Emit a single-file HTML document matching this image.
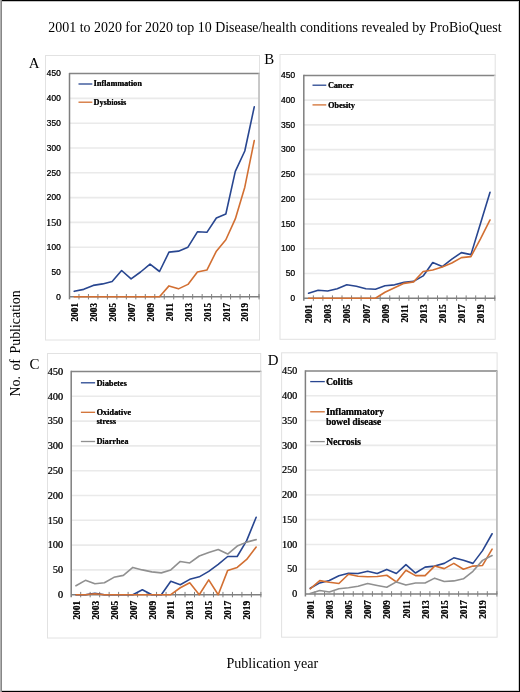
<!DOCTYPE html>
<html><head><meta charset="utf-8"><title>ProBioQuest figure</title>
<style>
html,body{margin:0;padding:0;background:#fff;}
body{width:520px;height:692px;overflow:hidden;font-family:"Liberation Serif", serif;}
svg{display:block;will-change:transform;}
</style></head><body>
<svg width="520" height="692" viewBox="0 0 520 692">
<rect x="0" y="0" width="520" height="692" fill="#fff"/>
<rect x="45.5" y="55.5" width="214" height="284.5" fill="none" stroke="#e2e2e2" stroke-width="1"/>
<line x1="69.5" y1="272" x2="259" y2="272" stroke="#eaeaea" stroke-width="1.6"/>
<line x1="69.5" y1="247.2" x2="259" y2="247.2" stroke="#eaeaea" stroke-width="1.6"/>
<line x1="69.5" y1="222.4" x2="259" y2="222.4" stroke="#eaeaea" stroke-width="1.6"/>
<line x1="69.5" y1="197.6" x2="259" y2="197.6" stroke="#eaeaea" stroke-width="1.6"/>
<line x1="69.5" y1="172.8" x2="259" y2="172.8" stroke="#eaeaea" stroke-width="1.6"/>
<line x1="69.5" y1="148" x2="259" y2="148" stroke="#eaeaea" stroke-width="1.6"/>
<line x1="69.5" y1="123.2" x2="259" y2="123.2" stroke="#eaeaea" stroke-width="1.6"/>
<line x1="69.5" y1="98.4" x2="259" y2="98.4" stroke="#eaeaea" stroke-width="1.6"/>
<line x1="69.5" y1="73.6" x2="259.5" y2="73.6" stroke="#858585" stroke-width="1.5"/>
<line x1="259" y1="73.6" x2="259" y2="296.8" stroke="#c4c4c4" stroke-width="1.8"/>
<line x1="69.5" y1="72.9" x2="69.5" y2="299.3" stroke="#7f7f7f" stroke-width="1.5"/>
<line x1="69.5" y1="296.8" x2="259.5" y2="296.8" stroke="#7f7f7f" stroke-width="1.6"/>
<line x1="78.97" y1="294" x2="78.97" y2="299.4" stroke="#7f7f7f" stroke-width="1"/>
<line x1="88.45" y1="294" x2="88.45" y2="299.4" stroke="#7f7f7f" stroke-width="1"/>
<line x1="97.92" y1="294" x2="97.92" y2="299.4" stroke="#7f7f7f" stroke-width="1"/>
<line x1="107.4" y1="294" x2="107.4" y2="299.4" stroke="#7f7f7f" stroke-width="1"/>
<line x1="116.88" y1="294" x2="116.88" y2="299.4" stroke="#7f7f7f" stroke-width="1"/>
<line x1="126.35" y1="294" x2="126.35" y2="299.4" stroke="#7f7f7f" stroke-width="1"/>
<line x1="135.82" y1="294" x2="135.82" y2="299.4" stroke="#7f7f7f" stroke-width="1"/>
<line x1="145.3" y1="294" x2="145.3" y2="299.4" stroke="#7f7f7f" stroke-width="1"/>
<line x1="154.77" y1="294" x2="154.77" y2="299.4" stroke="#7f7f7f" stroke-width="1"/>
<line x1="164.25" y1="294" x2="164.25" y2="299.4" stroke="#7f7f7f" stroke-width="1"/>
<line x1="173.72" y1="294" x2="173.72" y2="299.4" stroke="#7f7f7f" stroke-width="1"/>
<line x1="183.2" y1="294" x2="183.2" y2="299.4" stroke="#7f7f7f" stroke-width="1"/>
<line x1="192.68" y1="294" x2="192.68" y2="299.4" stroke="#7f7f7f" stroke-width="1"/>
<line x1="202.15" y1="294" x2="202.15" y2="299.4" stroke="#7f7f7f" stroke-width="1"/>
<line x1="211.62" y1="294" x2="211.62" y2="299.4" stroke="#7f7f7f" stroke-width="1"/>
<line x1="221.1" y1="294" x2="221.1" y2="299.4" stroke="#7f7f7f" stroke-width="1"/>
<line x1="230.57" y1="294" x2="230.57" y2="299.4" stroke="#7f7f7f" stroke-width="1"/>
<line x1="240.05" y1="294" x2="240.05" y2="299.4" stroke="#7f7f7f" stroke-width="1"/>
<line x1="249.53" y1="294" x2="249.53" y2="299.4" stroke="#7f7f7f" stroke-width="1"/>
<line x1="259" y1="294" x2="259" y2="299.4" stroke="#7f7f7f" stroke-width="1"/>
<polyline points="74.24,291.34 83.71,289.36 93.19,285.39 102.66,283.9 112.14,281.42 121.61,270.51 131.09,278.94 140.56,272 150.04,264.06 159.51,271.5 168.99,252.16 178.46,251.17 187.94,247.2 197.41,231.82 206.89,232.32 216.36,217.94 225.84,213.97 235.31,171.31 244.79,150.98 254.26,106.83" fill="none" stroke="#284690" stroke-width="1.6" stroke-linejoin="round" stroke-linecap="round"/>
<polyline points="74.24,296.8 83.71,296.8 93.19,296.8 102.66,296.8 112.14,296.8 121.61,296.8 131.09,296.8 140.56,296.8 150.04,296.8 159.51,296.8 168.99,285.89 178.46,288.86 187.94,284.4 197.41,272 206.89,270.02 216.36,251.17 225.84,239.76 235.31,218.93 244.79,187.18 254.26,140.56" fill="none" stroke="#d26f32" stroke-width="1.6" stroke-linejoin="round" stroke-linecap="round"/>
<text transform="translate(60.7,299.6) scale(0.86,1)" text-anchor="end" font-family='"Liberation Sans", sans-serif' font-size="9.9" fill="#1a1a1a">0</text>
<text transform="translate(61.05,299.6) scale(0.86,1)" text-anchor="end" font-family='"Liberation Sans", sans-serif' font-size="9.9" fill="#1a1a1a">0</text>
<text transform="translate(60.7,274.8) scale(0.86,1)" text-anchor="end" font-family='"Liberation Sans", sans-serif' font-size="9.9" fill="#1a1a1a">50</text>
<text transform="translate(61.05,274.8) scale(0.86,1)" text-anchor="end" font-family='"Liberation Sans", sans-serif' font-size="9.9" fill="#1a1a1a">50</text>
<text transform="translate(60.7,250) scale(0.86,1)" text-anchor="end" font-family='"Liberation Sans", sans-serif' font-size="9.9" fill="#1a1a1a">100</text>
<text transform="translate(61.05,250) scale(0.86,1)" text-anchor="end" font-family='"Liberation Sans", sans-serif' font-size="9.9" fill="#1a1a1a">100</text>
<text x="61.2" y="225.6" text-anchor="end" font-family='"Liberation Serif", serif' font-size="10.2" fill="#1a1a1a">150</text>
<text x="61.55" y="225.6" text-anchor="end" font-family='"Liberation Serif", serif' font-size="10.2" fill="#1a1a1a">150</text>
<text transform="translate(60.7,200.4) scale(0.86,1)" text-anchor="end" font-family='"Liberation Sans", sans-serif' font-size="9.9" fill="#1a1a1a">200</text>
<text transform="translate(61.05,200.4) scale(0.86,1)" text-anchor="end" font-family='"Liberation Sans", sans-serif' font-size="9.9" fill="#1a1a1a">200</text>
<text transform="translate(60.7,175.6) scale(0.86,1)" text-anchor="end" font-family='"Liberation Sans", sans-serif' font-size="9.9" fill="#1a1a1a">250</text>
<text transform="translate(61.05,175.6) scale(0.86,1)" text-anchor="end" font-family='"Liberation Sans", sans-serif' font-size="9.9" fill="#1a1a1a">250</text>
<text transform="translate(60.7,150.8) scale(0.86,1)" text-anchor="end" font-family='"Liberation Sans", sans-serif' font-size="9.9" fill="#1a1a1a">300</text>
<text transform="translate(61.05,150.8) scale(0.86,1)" text-anchor="end" font-family='"Liberation Sans", sans-serif' font-size="9.9" fill="#1a1a1a">300</text>
<text transform="translate(60.7,126) scale(0.86,1)" text-anchor="end" font-family='"Liberation Sans", sans-serif' font-size="9.9" fill="#1a1a1a">350</text>
<text transform="translate(61.05,126) scale(0.86,1)" text-anchor="end" font-family='"Liberation Sans", sans-serif' font-size="9.9" fill="#1a1a1a">350</text>
<text transform="translate(60.7,101.2) scale(0.86,1)" text-anchor="end" font-family='"Liberation Sans", sans-serif' font-size="9.9" fill="#1a1a1a">400</text>
<text transform="translate(61.05,101.2) scale(0.86,1)" text-anchor="end" font-family='"Liberation Sans", sans-serif' font-size="9.9" fill="#1a1a1a">400</text>
<text transform="translate(60.7,76.4) scale(0.86,1)" text-anchor="end" font-family='"Liberation Sans", sans-serif' font-size="9.9" fill="#1a1a1a">450</text>
<text transform="translate(61.05,76.4) scale(0.86,1)" text-anchor="end" font-family='"Liberation Sans", sans-serif' font-size="9.9" fill="#1a1a1a">450</text>
<text transform="translate(77.94,302.8) rotate(-90)" text-anchor="end" font-family='"Liberation Serif", serif' font-weight="bold" font-size="9.3" fill="#111">2001</text>
<text transform="translate(77.94,303.15) rotate(-90)" text-anchor="end" font-family='"Liberation Serif", serif' font-weight="bold" font-size="9.3" fill="#111">2001</text>
<text transform="translate(96.89,302.8) rotate(-90)" text-anchor="end" font-family='"Liberation Serif", serif' font-weight="bold" font-size="9.3" fill="#111">2003</text>
<text transform="translate(96.89,303.15) rotate(-90)" text-anchor="end" font-family='"Liberation Serif", serif' font-weight="bold" font-size="9.3" fill="#111">2003</text>
<text transform="translate(115.84,302.8) rotate(-90)" text-anchor="end" font-family='"Liberation Serif", serif' font-weight="bold" font-size="9.3" fill="#111">2005</text>
<text transform="translate(115.84,303.15) rotate(-90)" text-anchor="end" font-family='"Liberation Serif", serif' font-weight="bold" font-size="9.3" fill="#111">2005</text>
<text transform="translate(134.79,302.8) rotate(-90)" text-anchor="end" font-family='"Liberation Serif", serif' font-weight="bold" font-size="9.3" fill="#111">2007</text>
<text transform="translate(134.79,303.15) rotate(-90)" text-anchor="end" font-family='"Liberation Serif", serif' font-weight="bold" font-size="9.3" fill="#111">2007</text>
<text transform="translate(153.74,302.8) rotate(-90)" text-anchor="end" font-family='"Liberation Serif", serif' font-weight="bold" font-size="9.3" fill="#111">2009</text>
<text transform="translate(153.74,303.15) rotate(-90)" text-anchor="end" font-family='"Liberation Serif", serif' font-weight="bold" font-size="9.3" fill="#111">2009</text>
<text transform="translate(172.69,302.8) rotate(-90)" text-anchor="end" font-family='"Liberation Serif", serif' font-weight="bold" font-size="9.3" fill="#111">2011</text>
<text transform="translate(172.69,303.15) rotate(-90)" text-anchor="end" font-family='"Liberation Serif", serif' font-weight="bold" font-size="9.3" fill="#111">2011</text>
<text transform="translate(191.64,302.8) rotate(-90)" text-anchor="end" font-family='"Liberation Serif", serif' font-weight="bold" font-size="9.3" fill="#111">2013</text>
<text transform="translate(191.64,303.15) rotate(-90)" text-anchor="end" font-family='"Liberation Serif", serif' font-weight="bold" font-size="9.3" fill="#111">2013</text>
<text transform="translate(210.59,302.8) rotate(-90)" text-anchor="end" font-family='"Liberation Serif", serif' font-weight="bold" font-size="9.3" fill="#111">2015</text>
<text transform="translate(210.59,303.15) rotate(-90)" text-anchor="end" font-family='"Liberation Serif", serif' font-weight="bold" font-size="9.3" fill="#111">2015</text>
<text transform="translate(229.54,302.8) rotate(-90)" text-anchor="end" font-family='"Liberation Serif", serif' font-weight="bold" font-size="9.3" fill="#111">2017</text>
<text transform="translate(229.54,303.15) rotate(-90)" text-anchor="end" font-family='"Liberation Serif", serif' font-weight="bold" font-size="9.3" fill="#111">2017</text>
<text transform="translate(248.49,302.8) rotate(-90)" text-anchor="end" font-family='"Liberation Serif", serif' font-weight="bold" font-size="9.3" fill="#111">2019</text>
<text transform="translate(248.49,303.15) rotate(-90)" text-anchor="end" font-family='"Liberation Serif", serif' font-weight="bold" font-size="9.3" fill="#111">2019</text>
<line x1="78.5" y1="84" x2="92.3" y2="84" stroke="#284690" stroke-width="1.3"/>
<text x="93.6" y="86.3" font-family='"Liberation Serif", serif' font-weight="bold" font-size="8.18" fill="#111">Inflammation</text>
<text x="93.85" y="86.3" font-family='"Liberation Serif", serif' font-weight="bold" font-size="8.18" fill="#111">Inflammation</text>
<line x1="78.5" y1="102.2" x2="92.3" y2="102.2" stroke="#d26f32" stroke-width="1.3"/>
<text x="93.6" y="104.5" font-family='"Liberation Serif", serif' font-weight="bold" font-size="8.12" fill="#111">Dysbiosis</text>
<text x="93.85" y="104.5" font-family='"Liberation Serif", serif' font-weight="bold" font-size="8.12" fill="#111">Dysbiosis</text>
<text x="28.7" y="67.8" font-family='"Liberation Serif", serif' font-size="14.9" fill="#000">A</text>
<rect x="280" y="54.5" width="215.2" height="284.8" fill="none" stroke="#e2e2e2" stroke-width="1"/>
<line x1="303.8" y1="273.44" x2="494.8" y2="273.44" stroke="#eaeaea" stroke-width="1.6"/>
<line x1="303.8" y1="248.69" x2="494.8" y2="248.69" stroke="#eaeaea" stroke-width="1.6"/>
<line x1="303.8" y1="223.93" x2="494.8" y2="223.93" stroke="#eaeaea" stroke-width="1.6"/>
<line x1="303.8" y1="199.18" x2="494.8" y2="199.18" stroke="#eaeaea" stroke-width="1.6"/>
<line x1="303.8" y1="174.42" x2="494.8" y2="174.42" stroke="#eaeaea" stroke-width="1.6"/>
<line x1="303.8" y1="149.67" x2="494.8" y2="149.67" stroke="#eaeaea" stroke-width="1.6"/>
<line x1="303.8" y1="124.91" x2="494.8" y2="124.91" stroke="#eaeaea" stroke-width="1.6"/>
<line x1="303.8" y1="100.16" x2="494.8" y2="100.16" stroke="#eaeaea" stroke-width="1.6"/>
<line x1="303.8" y1="75.4" x2="495.3" y2="75.4" stroke="#858585" stroke-width="1.5"/>
<line x1="494.8" y1="75.4" x2="494.8" y2="298.2" stroke="#e4e4e4" stroke-width="1.8"/>
<line x1="303.8" y1="74.7" x2="303.8" y2="300.7" stroke="#7f7f7f" stroke-width="1.5"/>
<line x1="303.8" y1="298.2" x2="495.3" y2="298.2" stroke="#7f7f7f" stroke-width="1.6"/>
<line x1="313.35" y1="295.4" x2="313.35" y2="300.8" stroke="#7f7f7f" stroke-width="1"/>
<line x1="322.9" y1="295.4" x2="322.9" y2="300.8" stroke="#7f7f7f" stroke-width="1"/>
<line x1="332.45" y1="295.4" x2="332.45" y2="300.8" stroke="#7f7f7f" stroke-width="1"/>
<line x1="342" y1="295.4" x2="342" y2="300.8" stroke="#7f7f7f" stroke-width="1"/>
<line x1="351.55" y1="295.4" x2="351.55" y2="300.8" stroke="#7f7f7f" stroke-width="1"/>
<line x1="361.1" y1="295.4" x2="361.1" y2="300.8" stroke="#7f7f7f" stroke-width="1"/>
<line x1="370.65" y1="295.4" x2="370.65" y2="300.8" stroke="#7f7f7f" stroke-width="1"/>
<line x1="380.2" y1="295.4" x2="380.2" y2="300.8" stroke="#7f7f7f" stroke-width="1"/>
<line x1="389.75" y1="295.4" x2="389.75" y2="300.8" stroke="#7f7f7f" stroke-width="1"/>
<line x1="399.3" y1="295.4" x2="399.3" y2="300.8" stroke="#7f7f7f" stroke-width="1"/>
<line x1="408.85" y1="295.4" x2="408.85" y2="300.8" stroke="#7f7f7f" stroke-width="1"/>
<line x1="418.4" y1="295.4" x2="418.4" y2="300.8" stroke="#7f7f7f" stroke-width="1"/>
<line x1="427.95" y1="295.4" x2="427.95" y2="300.8" stroke="#7f7f7f" stroke-width="1"/>
<line x1="437.5" y1="295.4" x2="437.5" y2="300.8" stroke="#7f7f7f" stroke-width="1"/>
<line x1="447.05" y1="295.4" x2="447.05" y2="300.8" stroke="#7f7f7f" stroke-width="1"/>
<line x1="456.6" y1="295.4" x2="456.6" y2="300.8" stroke="#7f7f7f" stroke-width="1"/>
<line x1="466.15" y1="295.4" x2="466.15" y2="300.8" stroke="#7f7f7f" stroke-width="1"/>
<line x1="475.7" y1="295.4" x2="475.7" y2="300.8" stroke="#7f7f7f" stroke-width="1"/>
<line x1="485.25" y1="295.4" x2="485.25" y2="300.8" stroke="#7f7f7f" stroke-width="1"/>
<line x1="494.8" y1="295.4" x2="494.8" y2="300.8" stroke="#7f7f7f" stroke-width="1"/>
<polyline points="308.57,293.25 318.12,290.28 327.68,291.02 337.23,288.79 346.78,284.83 356.33,286.32 365.88,288.79 375.43,289.29 384.98,285.82 394.53,284.83 404.08,282.36 413.62,281.37 423.18,275.92 432.73,262.55 442.28,266.51 451.83,259.09 461.38,252.65 470.93,254.63 480.48,223.44 490.03,192.25" fill="none" stroke="#284690" stroke-width="1.6" stroke-linejoin="round" stroke-linecap="round"/>
<polyline points="308.57,298.2 318.12,298.2 327.68,298.2 337.23,298.2 346.78,298.2 356.33,298.2 365.88,298.2 375.43,298.2 384.98,292.26 394.53,287.8 404.08,283.35 413.62,281.86 423.18,271.46 432.73,269.98 442.28,267.01 451.83,263.05 461.38,257.6 470.93,256.61 480.48,238.79 490.03,219.97" fill="none" stroke="#d26f32" stroke-width="1.6" stroke-linejoin="round" stroke-linecap="round"/>
<text transform="translate(295,301) scale(0.86,1)" text-anchor="end" font-family='"Liberation Sans", sans-serif' font-size="9.9" fill="#1a1a1a">0</text>
<text transform="translate(295.35,301) scale(0.86,1)" text-anchor="end" font-family='"Liberation Sans", sans-serif' font-size="9.9" fill="#1a1a1a">0</text>
<text transform="translate(295,276.24) scale(0.86,1)" text-anchor="end" font-family='"Liberation Sans", sans-serif' font-size="9.9" fill="#1a1a1a">50</text>
<text transform="translate(295.35,276.24) scale(0.86,1)" text-anchor="end" font-family='"Liberation Sans", sans-serif' font-size="9.9" fill="#1a1a1a">50</text>
<text transform="translate(295,251.49) scale(0.86,1)" text-anchor="end" font-family='"Liberation Sans", sans-serif' font-size="9.9" fill="#1a1a1a">100</text>
<text transform="translate(295.35,251.49) scale(0.86,1)" text-anchor="end" font-family='"Liberation Sans", sans-serif' font-size="9.9" fill="#1a1a1a">100</text>
<text transform="translate(295,226.73) scale(0.86,1)" text-anchor="end" font-family='"Liberation Sans", sans-serif' font-size="9.9" fill="#1a1a1a">150</text>
<text transform="translate(295.35,226.73) scale(0.86,1)" text-anchor="end" font-family='"Liberation Sans", sans-serif' font-size="9.9" fill="#1a1a1a">150</text>
<text transform="translate(295,201.98) scale(0.86,1)" text-anchor="end" font-family='"Liberation Sans", sans-serif' font-size="9.9" fill="#1a1a1a">200</text>
<text transform="translate(295.35,201.98) scale(0.86,1)" text-anchor="end" font-family='"Liberation Sans", sans-serif' font-size="9.9" fill="#1a1a1a">200</text>
<text transform="translate(295,177.22) scale(0.86,1)" text-anchor="end" font-family='"Liberation Sans", sans-serif' font-size="9.9" fill="#1a1a1a">250</text>
<text transform="translate(295.35,177.22) scale(0.86,1)" text-anchor="end" font-family='"Liberation Sans", sans-serif' font-size="9.9" fill="#1a1a1a">250</text>
<text transform="translate(295,152.47) scale(0.86,1)" text-anchor="end" font-family='"Liberation Sans", sans-serif' font-size="9.9" fill="#1a1a1a">300</text>
<text transform="translate(295.35,152.47) scale(0.86,1)" text-anchor="end" font-family='"Liberation Sans", sans-serif' font-size="9.9" fill="#1a1a1a">300</text>
<text transform="translate(295,127.71) scale(0.86,1)" text-anchor="end" font-family='"Liberation Sans", sans-serif' font-size="9.9" fill="#1a1a1a">350</text>
<text transform="translate(295.35,127.71) scale(0.86,1)" text-anchor="end" font-family='"Liberation Sans", sans-serif' font-size="9.9" fill="#1a1a1a">350</text>
<text transform="translate(295,102.96) scale(0.86,1)" text-anchor="end" font-family='"Liberation Sans", sans-serif' font-size="9.9" fill="#1a1a1a">400</text>
<text transform="translate(295.35,102.96) scale(0.86,1)" text-anchor="end" font-family='"Liberation Sans", sans-serif' font-size="9.9" fill="#1a1a1a">400</text>
<text transform="translate(295,78.2) scale(0.86,1)" text-anchor="end" font-family='"Liberation Sans", sans-serif' font-size="9.9" fill="#1a1a1a">450</text>
<text transform="translate(295.35,78.2) scale(0.86,1)" text-anchor="end" font-family='"Liberation Sans", sans-serif' font-size="9.9" fill="#1a1a1a">450</text>
<text transform="translate(312.27,304.2) rotate(-90)" text-anchor="end" font-family='"Liberation Serif", serif' font-weight="bold" font-size="9.3" fill="#111">2001</text>
<text transform="translate(312.27,304.55) rotate(-90)" text-anchor="end" font-family='"Liberation Serif", serif' font-weight="bold" font-size="9.3" fill="#111">2001</text>
<text transform="translate(331.38,304.2) rotate(-90)" text-anchor="end" font-family='"Liberation Serif", serif' font-weight="bold" font-size="9.3" fill="#111">2003</text>
<text transform="translate(331.38,304.55) rotate(-90)" text-anchor="end" font-family='"Liberation Serif", serif' font-weight="bold" font-size="9.3" fill="#111">2003</text>
<text transform="translate(350.48,304.2) rotate(-90)" text-anchor="end" font-family='"Liberation Serif", serif' font-weight="bold" font-size="9.3" fill="#111">2005</text>
<text transform="translate(350.48,304.55) rotate(-90)" text-anchor="end" font-family='"Liberation Serif", serif' font-weight="bold" font-size="9.3" fill="#111">2005</text>
<text transform="translate(369.57,304.2) rotate(-90)" text-anchor="end" font-family='"Liberation Serif", serif' font-weight="bold" font-size="9.3" fill="#111">2007</text>
<text transform="translate(369.57,304.55) rotate(-90)" text-anchor="end" font-family='"Liberation Serif", serif' font-weight="bold" font-size="9.3" fill="#111">2007</text>
<text transform="translate(388.68,304.2) rotate(-90)" text-anchor="end" font-family='"Liberation Serif", serif' font-weight="bold" font-size="9.3" fill="#111">2009</text>
<text transform="translate(388.68,304.55) rotate(-90)" text-anchor="end" font-family='"Liberation Serif", serif' font-weight="bold" font-size="9.3" fill="#111">2009</text>
<text transform="translate(407.78,304.2) rotate(-90)" text-anchor="end" font-family='"Liberation Serif", serif' font-weight="bold" font-size="9.3" fill="#111">2011</text>
<text transform="translate(407.78,304.55) rotate(-90)" text-anchor="end" font-family='"Liberation Serif", serif' font-weight="bold" font-size="9.3" fill="#111">2011</text>
<text transform="translate(426.88,304.2) rotate(-90)" text-anchor="end" font-family='"Liberation Serif", serif' font-weight="bold" font-size="9.3" fill="#111">2013</text>
<text transform="translate(426.88,304.55) rotate(-90)" text-anchor="end" font-family='"Liberation Serif", serif' font-weight="bold" font-size="9.3" fill="#111">2013</text>
<text transform="translate(445.98,304.2) rotate(-90)" text-anchor="end" font-family='"Liberation Serif", serif' font-weight="bold" font-size="9.3" fill="#111">2015</text>
<text transform="translate(445.98,304.55) rotate(-90)" text-anchor="end" font-family='"Liberation Serif", serif' font-weight="bold" font-size="9.3" fill="#111">2015</text>
<text transform="translate(465.07,304.2) rotate(-90)" text-anchor="end" font-family='"Liberation Serif", serif' font-weight="bold" font-size="9.3" fill="#111">2017</text>
<text transform="translate(465.07,304.55) rotate(-90)" text-anchor="end" font-family='"Liberation Serif", serif' font-weight="bold" font-size="9.3" fill="#111">2017</text>
<text transform="translate(484.18,304.2) rotate(-90)" text-anchor="end" font-family='"Liberation Serif", serif' font-weight="bold" font-size="9.3" fill="#111">2019</text>
<text transform="translate(484.18,304.55) rotate(-90)" text-anchor="end" font-family='"Liberation Serif", serif' font-weight="bold" font-size="9.3" fill="#111">2019</text>
<line x1="312.5" y1="85.2" x2="326.3" y2="85.2" stroke="#284690" stroke-width="1.3"/>
<text x="327.9" y="88" font-family='"Liberation Serif", serif' font-weight="bold" font-size="8.17" fill="#111">Cancer</text>
<text x="328.15" y="88" font-family='"Liberation Serif", serif' font-weight="bold" font-size="8.17" fill="#111">Cancer</text>
<line x1="312.5" y1="104.9" x2="326.3" y2="104.9" stroke="#d26f32" stroke-width="1.3"/>
<text x="327.9" y="108.3" font-family='"Liberation Serif", serif' font-weight="bold" font-size="8.24" fill="#111">Obesity</text>
<text x="328.15" y="108.3" font-family='"Liberation Serif", serif' font-weight="bold" font-size="8.24" fill="#111">Obesity</text>
<text x="264.3" y="63.8" font-family='"Liberation Serif", serif' font-size="14.9" fill="#000">B</text>
<rect x="47.5" y="353.5" width="213.2" height="284.5" fill="none" stroke="#e2e2e2" stroke-width="1"/>
<line x1="71.2" y1="569.9" x2="260.9" y2="569.9" stroke="#eaeaea" stroke-width="1.6"/>
<line x1="71.2" y1="545.1" x2="260.9" y2="545.1" stroke="#eaeaea" stroke-width="1.6"/>
<line x1="71.2" y1="520.3" x2="260.9" y2="520.3" stroke="#eaeaea" stroke-width="1.6"/>
<line x1="71.2" y1="495.5" x2="260.9" y2="495.5" stroke="#eaeaea" stroke-width="1.6"/>
<line x1="71.2" y1="470.7" x2="260.9" y2="470.7" stroke="#eaeaea" stroke-width="1.6"/>
<line x1="71.2" y1="445.9" x2="260.9" y2="445.9" stroke="#eaeaea" stroke-width="1.6"/>
<line x1="71.2" y1="421.1" x2="260.9" y2="421.1" stroke="#eaeaea" stroke-width="1.6"/>
<line x1="71.2" y1="396.3" x2="260.9" y2="396.3" stroke="#eaeaea" stroke-width="1.6"/>
<line x1="71.2" y1="371.5" x2="261.4" y2="371.5" stroke="#858585" stroke-width="1.5"/>
<line x1="260.9" y1="371.5" x2="260.9" y2="594.7" stroke="#e4e4e4" stroke-width="1.8"/>
<line x1="71.2" y1="370.8" x2="71.2" y2="597.2" stroke="#7f7f7f" stroke-width="1.5"/>
<line x1="71.2" y1="594.7" x2="261.4" y2="594.7" stroke="#7f7f7f" stroke-width="1.6"/>
<line x1="80.69" y1="591.9" x2="80.69" y2="597.3" stroke="#7f7f7f" stroke-width="1"/>
<line x1="90.17" y1="591.9" x2="90.17" y2="597.3" stroke="#7f7f7f" stroke-width="1"/>
<line x1="99.66" y1="591.9" x2="99.66" y2="597.3" stroke="#7f7f7f" stroke-width="1"/>
<line x1="109.14" y1="591.9" x2="109.14" y2="597.3" stroke="#7f7f7f" stroke-width="1"/>
<line x1="118.62" y1="591.9" x2="118.62" y2="597.3" stroke="#7f7f7f" stroke-width="1"/>
<line x1="128.11" y1="591.9" x2="128.11" y2="597.3" stroke="#7f7f7f" stroke-width="1"/>
<line x1="137.59" y1="591.9" x2="137.59" y2="597.3" stroke="#7f7f7f" stroke-width="1"/>
<line x1="147.08" y1="591.9" x2="147.08" y2="597.3" stroke="#7f7f7f" stroke-width="1"/>
<line x1="156.56" y1="591.9" x2="156.56" y2="597.3" stroke="#7f7f7f" stroke-width="1"/>
<line x1="166.05" y1="591.9" x2="166.05" y2="597.3" stroke="#7f7f7f" stroke-width="1"/>
<line x1="175.53" y1="591.9" x2="175.53" y2="597.3" stroke="#7f7f7f" stroke-width="1"/>
<line x1="185.02" y1="591.9" x2="185.02" y2="597.3" stroke="#7f7f7f" stroke-width="1"/>
<line x1="194.5" y1="591.9" x2="194.5" y2="597.3" stroke="#7f7f7f" stroke-width="1"/>
<line x1="203.99" y1="591.9" x2="203.99" y2="597.3" stroke="#7f7f7f" stroke-width="1"/>
<line x1="213.47" y1="591.9" x2="213.47" y2="597.3" stroke="#7f7f7f" stroke-width="1"/>
<line x1="222.96" y1="591.9" x2="222.96" y2="597.3" stroke="#7f7f7f" stroke-width="1"/>
<line x1="232.44" y1="591.9" x2="232.44" y2="597.3" stroke="#7f7f7f" stroke-width="1"/>
<line x1="241.93" y1="591.9" x2="241.93" y2="597.3" stroke="#7f7f7f" stroke-width="1"/>
<line x1="251.41" y1="591.9" x2="251.41" y2="597.3" stroke="#7f7f7f" stroke-width="1"/>
<line x1="260.9" y1="591.9" x2="260.9" y2="597.3" stroke="#7f7f7f" stroke-width="1"/>
<polyline points="75.94,594.7 85.43,594.7 94.91,593.21 104.4,594.7 113.88,594.7 123.37,594.7 132.85,594.7 142.34,589.74 151.82,594.7 161.31,594.7 170.79,581.31 180.28,584.78 189.76,579.32 199.25,576.84 208.73,571.39 218.22,564.44 227.7,556.51 237.19,556.51 246.67,540.64 256.16,517.32" fill="none" stroke="#284690" stroke-width="1.6" stroke-linejoin="round" stroke-linecap="round"/>
<polyline points="75.94,594.7 85.43,594.7 94.91,593.71 104.4,594.7 113.88,594.7 123.37,594.7 132.85,594.7 142.34,594.7 151.82,594.7 161.31,594.7 170.79,594.7 180.28,587.76 189.76,582.8 199.25,594.7 208.73,579.82 218.22,594.7 227.7,570.4 237.19,567.42 246.67,559.48 256.16,547.08" fill="none" stroke="#d26f32" stroke-width="1.6" stroke-linejoin="round" stroke-linecap="round"/>
<polyline points="75.94,585.77 85.43,580.32 94.91,583.79 104.4,582.8 113.88,577.34 123.37,575.36 132.85,567.42 142.34,569.9 151.82,571.88 161.31,572.88 170.79,569.9 180.28,561.47 189.76,562.96 199.25,556.01 208.73,552.54 218.22,549.56 227.7,554.03 237.19,546.09 246.67,542.12 256.16,539.64" fill="none" stroke="#909090" stroke-width="1.6" stroke-linejoin="round" stroke-linecap="round"/>
<text x="62.9" y="597.9" text-anchor="end" font-family='"Liberation Serif", serif' font-size="10.2" fill="#1a1a1a">0</text>
<text x="63.25" y="597.9" text-anchor="end" font-family='"Liberation Serif", serif' font-size="10.2" fill="#1a1a1a">0</text>
<text x="62.9" y="573.1" text-anchor="end" font-family='"Liberation Serif", serif' font-size="10.2" fill="#1a1a1a">50</text>
<text x="63.25" y="573.1" text-anchor="end" font-family='"Liberation Serif", serif' font-size="10.2" fill="#1a1a1a">50</text>
<text x="62.9" y="548.3" text-anchor="end" font-family='"Liberation Serif", serif' font-size="10.2" fill="#1a1a1a">100</text>
<text x="63.25" y="548.3" text-anchor="end" font-family='"Liberation Serif", serif' font-size="10.2" fill="#1a1a1a">100</text>
<text x="62.9" y="523.5" text-anchor="end" font-family='"Liberation Serif", serif' font-size="10.2" fill="#1a1a1a">150</text>
<text x="63.25" y="523.5" text-anchor="end" font-family='"Liberation Serif", serif' font-size="10.2" fill="#1a1a1a">150</text>
<text x="62.9" y="498.7" text-anchor="end" font-family='"Liberation Serif", serif' font-size="10.2" fill="#1a1a1a">200</text>
<text x="63.25" y="498.7" text-anchor="end" font-family='"Liberation Serif", serif' font-size="10.2" fill="#1a1a1a">200</text>
<text x="62.9" y="473.9" text-anchor="end" font-family='"Liberation Serif", serif' font-size="10.2" fill="#1a1a1a">250</text>
<text x="63.25" y="473.9" text-anchor="end" font-family='"Liberation Serif", serif' font-size="10.2" fill="#1a1a1a">250</text>
<text x="62.9" y="449.1" text-anchor="end" font-family='"Liberation Serif", serif' font-size="10.2" fill="#1a1a1a">300</text>
<text x="63.25" y="449.1" text-anchor="end" font-family='"Liberation Serif", serif' font-size="10.2" fill="#1a1a1a">300</text>
<text x="62.9" y="424.3" text-anchor="end" font-family='"Liberation Serif", serif' font-size="10.2" fill="#1a1a1a">350</text>
<text x="63.25" y="424.3" text-anchor="end" font-family='"Liberation Serif", serif' font-size="10.2" fill="#1a1a1a">350</text>
<text x="62.9" y="399.5" text-anchor="end" font-family='"Liberation Serif", serif' font-size="10.2" fill="#1a1a1a">400</text>
<text x="63.25" y="399.5" text-anchor="end" font-family='"Liberation Serif", serif' font-size="10.2" fill="#1a1a1a">400</text>
<text x="62.9" y="374.7" text-anchor="end" font-family='"Liberation Serif", serif' font-size="10.2" fill="#1a1a1a">450</text>
<text x="63.25" y="374.7" text-anchor="end" font-family='"Liberation Serif", serif' font-size="10.2" fill="#1a1a1a">450</text>
<text transform="translate(79.64,600.7) rotate(-90)" text-anchor="end" font-family='"Liberation Serif", serif' font-weight="bold" font-size="9.3" fill="#111">2001</text>
<text transform="translate(79.64,601.05) rotate(-90)" text-anchor="end" font-family='"Liberation Serif", serif' font-weight="bold" font-size="9.3" fill="#111">2001</text>
<text transform="translate(98.61,600.7) rotate(-90)" text-anchor="end" font-family='"Liberation Serif", serif' font-weight="bold" font-size="9.3" fill="#111">2003</text>
<text transform="translate(98.61,601.05) rotate(-90)" text-anchor="end" font-family='"Liberation Serif", serif' font-weight="bold" font-size="9.3" fill="#111">2003</text>
<text transform="translate(117.58,600.7) rotate(-90)" text-anchor="end" font-family='"Liberation Serif", serif' font-weight="bold" font-size="9.3" fill="#111">2005</text>
<text transform="translate(117.58,601.05) rotate(-90)" text-anchor="end" font-family='"Liberation Serif", serif' font-weight="bold" font-size="9.3" fill="#111">2005</text>
<text transform="translate(136.55,600.7) rotate(-90)" text-anchor="end" font-family='"Liberation Serif", serif' font-weight="bold" font-size="9.3" fill="#111">2007</text>
<text transform="translate(136.55,601.05) rotate(-90)" text-anchor="end" font-family='"Liberation Serif", serif' font-weight="bold" font-size="9.3" fill="#111">2007</text>
<text transform="translate(155.52,600.7) rotate(-90)" text-anchor="end" font-family='"Liberation Serif", serif' font-weight="bold" font-size="9.3" fill="#111">2009</text>
<text transform="translate(155.52,601.05) rotate(-90)" text-anchor="end" font-family='"Liberation Serif", serif' font-weight="bold" font-size="9.3" fill="#111">2009</text>
<text transform="translate(174.49,600.7) rotate(-90)" text-anchor="end" font-family='"Liberation Serif", serif' font-weight="bold" font-size="9.3" fill="#111">2011</text>
<text transform="translate(174.49,601.05) rotate(-90)" text-anchor="end" font-family='"Liberation Serif", serif' font-weight="bold" font-size="9.3" fill="#111">2011</text>
<text transform="translate(193.46,600.7) rotate(-90)" text-anchor="end" font-family='"Liberation Serif", serif' font-weight="bold" font-size="9.3" fill="#111">2013</text>
<text transform="translate(193.46,601.05) rotate(-90)" text-anchor="end" font-family='"Liberation Serif", serif' font-weight="bold" font-size="9.3" fill="#111">2013</text>
<text transform="translate(212.43,600.7) rotate(-90)" text-anchor="end" font-family='"Liberation Serif", serif' font-weight="bold" font-size="9.3" fill="#111">2015</text>
<text transform="translate(212.43,601.05) rotate(-90)" text-anchor="end" font-family='"Liberation Serif", serif' font-weight="bold" font-size="9.3" fill="#111">2015</text>
<text transform="translate(231.4,600.7) rotate(-90)" text-anchor="end" font-family='"Liberation Serif", serif' font-weight="bold" font-size="9.3" fill="#111">2017</text>
<text transform="translate(231.4,601.05) rotate(-90)" text-anchor="end" font-family='"Liberation Serif", serif' font-weight="bold" font-size="9.3" fill="#111">2017</text>
<text transform="translate(250.37,600.7) rotate(-90)" text-anchor="end" font-family='"Liberation Serif", serif' font-weight="bold" font-size="9.3" fill="#111">2019</text>
<text transform="translate(250.37,601.05) rotate(-90)" text-anchor="end" font-family='"Liberation Serif", serif' font-weight="bold" font-size="9.3" fill="#111">2019</text>
<line x1="80.9" y1="382.8" x2="95.1" y2="382.8" stroke="#284690" stroke-width="1.3"/>
<text x="96.4" y="385.5" font-family='"Liberation Serif", serif' font-weight="bold" font-size="8.27" fill="#111">Diabetes</text>
<text x="96.65" y="385.5" font-family='"Liberation Serif", serif' font-weight="bold" font-size="8.27" fill="#111">Diabetes</text>
<line x1="80.9" y1="412.3" x2="95.1" y2="412.3" stroke="#d26f32" stroke-width="1.3"/>
<text x="96.4" y="415.1" font-family='"Liberation Serif", serif' font-weight="bold" font-size="8.3" fill="#111">Oxidative</text>
<text x="96.65" y="415.1" font-family='"Liberation Serif", serif' font-weight="bold" font-size="8.3" fill="#111">Oxidative</text>
<text x="96.4" y="423.6" font-family='"Liberation Serif", serif' font-weight="bold" font-size="8.23" fill="#111">stress</text>
<text x="96.65" y="423.6" font-family='"Liberation Serif", serif' font-weight="bold" font-size="8.23" fill="#111">stress</text>
<line x1="80.9" y1="441.5" x2="95.1" y2="441.5" stroke="#909090" stroke-width="1.3"/>
<text x="96.4" y="444.2" font-family='"Liberation Serif", serif' font-weight="bold" font-size="8.21" fill="#111">Diarrhea</text>
<text x="96.65" y="444.2" font-family='"Liberation Serif", serif' font-weight="bold" font-size="8.21" fill="#111">Diarrhea</text>
<text x="29.4" y="368.5" font-family='"Liberation Serif", serif' font-size="14.9" fill="#000">C</text>
<rect x="281.6" y="352.8" width="215.5" height="284.4" fill="none" stroke="#e2e2e2" stroke-width="1"/>
<line x1="305.4" y1="569.22" x2="496.9" y2="569.22" stroke="#eaeaea" stroke-width="1.6"/>
<line x1="305.4" y1="544.44" x2="496.9" y2="544.44" stroke="#eaeaea" stroke-width="1.6"/>
<line x1="305.4" y1="519.67" x2="496.9" y2="519.67" stroke="#eaeaea" stroke-width="1.6"/>
<line x1="305.4" y1="494.89" x2="496.9" y2="494.89" stroke="#eaeaea" stroke-width="1.6"/>
<line x1="305.4" y1="470.11" x2="496.9" y2="470.11" stroke="#eaeaea" stroke-width="1.6"/>
<line x1="305.4" y1="445.33" x2="496.9" y2="445.33" stroke="#eaeaea" stroke-width="1.6"/>
<line x1="305.4" y1="420.56" x2="496.9" y2="420.56" stroke="#eaeaea" stroke-width="1.6"/>
<line x1="305.4" y1="395.78" x2="496.9" y2="395.78" stroke="#eaeaea" stroke-width="1.6"/>
<line x1="305.4" y1="371" x2="497.4" y2="371" stroke="#858585" stroke-width="1.5"/>
<line x1="496.9" y1="371" x2="496.9" y2="594" stroke="#bdbdbd" stroke-width="1.8"/>
<line x1="305.4" y1="370.3" x2="305.4" y2="596.5" stroke="#7f7f7f" stroke-width="1.5"/>
<line x1="305.4" y1="594" x2="497.4" y2="594" stroke="#7f7f7f" stroke-width="1.6"/>
<line x1="314.97" y1="591.2" x2="314.97" y2="596.6" stroke="#7f7f7f" stroke-width="1"/>
<line x1="324.55" y1="591.2" x2="324.55" y2="596.6" stroke="#7f7f7f" stroke-width="1"/>
<line x1="334.12" y1="591.2" x2="334.12" y2="596.6" stroke="#7f7f7f" stroke-width="1"/>
<line x1="343.7" y1="591.2" x2="343.7" y2="596.6" stroke="#7f7f7f" stroke-width="1"/>
<line x1="353.27" y1="591.2" x2="353.27" y2="596.6" stroke="#7f7f7f" stroke-width="1"/>
<line x1="362.85" y1="591.2" x2="362.85" y2="596.6" stroke="#7f7f7f" stroke-width="1"/>
<line x1="372.42" y1="591.2" x2="372.42" y2="596.6" stroke="#7f7f7f" stroke-width="1"/>
<line x1="382" y1="591.2" x2="382" y2="596.6" stroke="#7f7f7f" stroke-width="1"/>
<line x1="391.57" y1="591.2" x2="391.57" y2="596.6" stroke="#7f7f7f" stroke-width="1"/>
<line x1="401.15" y1="591.2" x2="401.15" y2="596.6" stroke="#7f7f7f" stroke-width="1"/>
<line x1="410.72" y1="591.2" x2="410.72" y2="596.6" stroke="#7f7f7f" stroke-width="1"/>
<line x1="420.3" y1="591.2" x2="420.3" y2="596.6" stroke="#7f7f7f" stroke-width="1"/>
<line x1="429.88" y1="591.2" x2="429.88" y2="596.6" stroke="#7f7f7f" stroke-width="1"/>
<line x1="439.45" y1="591.2" x2="439.45" y2="596.6" stroke="#7f7f7f" stroke-width="1"/>
<line x1="449.02" y1="591.2" x2="449.02" y2="596.6" stroke="#7f7f7f" stroke-width="1"/>
<line x1="458.6" y1="591.2" x2="458.6" y2="596.6" stroke="#7f7f7f" stroke-width="1"/>
<line x1="468.17" y1="591.2" x2="468.17" y2="596.6" stroke="#7f7f7f" stroke-width="1"/>
<line x1="477.75" y1="591.2" x2="477.75" y2="596.6" stroke="#7f7f7f" stroke-width="1"/>
<line x1="487.32" y1="591.2" x2="487.32" y2="596.6" stroke="#7f7f7f" stroke-width="1"/>
<line x1="496.9" y1="591.2" x2="496.9" y2="596.6" stroke="#7f7f7f" stroke-width="1"/>
<polyline points="310.19,588.3 319.76,582.9 329.34,580.42 338.91,575.81 348.49,573.34 358.06,573.53 367.64,571.3 377.21,573.53 386.79,569.42 396.36,573.53 405.94,564.61 415.51,573.04 425.09,567.14 434.66,566.1 444.24,563.37 453.81,557.82 463.39,560.35 472.96,563.37 482.54,550.64 492.11,533.74" fill="none" stroke="#284690" stroke-width="1.6" stroke-linejoin="round" stroke-linecap="round"/>
<polyline points="310.19,588.8 319.76,580.62 329.34,582.3 338.91,583.49 348.49,574.23 358.06,576.21 367.64,576.71 377.21,576.51 386.79,575.22 396.36,581.91 405.94,570.31 415.51,575.61 425.09,575.61 434.66,566.1 444.24,568.63 453.81,563.37 463.39,569.22 472.96,566.1 482.54,565.46 492.11,549.15" fill="none" stroke="#d26f32" stroke-width="1.6" stroke-linejoin="round" stroke-linecap="round"/>
<polyline points="310.19,593.5 319.76,590.58 329.34,591.92 338.91,588.7 348.49,587.71 358.06,586.22 367.64,583.49 377.21,585.43 386.79,587.31 396.36,581.91 405.94,585.08 415.51,583 425.09,583 434.66,578.14 444.24,581.51 453.81,580.92 463.39,578.79 472.96,571.3 482.54,560.35 492.11,555.54" fill="none" stroke="#909090" stroke-width="1.6" stroke-linejoin="round" stroke-linecap="round"/>
<text x="297.1" y="597.2" text-anchor="end" font-family='"Liberation Serif", serif' font-size="10.2" fill="#1a1a1a">0</text>
<text x="297.45" y="597.2" text-anchor="end" font-family='"Liberation Serif", serif' font-size="10.2" fill="#1a1a1a">0</text>
<text x="297.1" y="572.42" text-anchor="end" font-family='"Liberation Serif", serif' font-size="10.2" fill="#1a1a1a">50</text>
<text x="297.45" y="572.42" text-anchor="end" font-family='"Liberation Serif", serif' font-size="10.2" fill="#1a1a1a">50</text>
<text x="297.1" y="547.64" text-anchor="end" font-family='"Liberation Serif", serif' font-size="10.2" fill="#1a1a1a">100</text>
<text x="297.45" y="547.64" text-anchor="end" font-family='"Liberation Serif", serif' font-size="10.2" fill="#1a1a1a">100</text>
<text x="297.1" y="522.87" text-anchor="end" font-family='"Liberation Serif", serif' font-size="10.2" fill="#1a1a1a">150</text>
<text x="297.45" y="522.87" text-anchor="end" font-family='"Liberation Serif", serif' font-size="10.2" fill="#1a1a1a">150</text>
<text x="297.1" y="498.09" text-anchor="end" font-family='"Liberation Serif", serif' font-size="10.2" fill="#1a1a1a">200</text>
<text x="297.45" y="498.09" text-anchor="end" font-family='"Liberation Serif", serif' font-size="10.2" fill="#1a1a1a">200</text>
<text x="297.1" y="473.31" text-anchor="end" font-family='"Liberation Serif", serif' font-size="10.2" fill="#1a1a1a">250</text>
<text x="297.45" y="473.31" text-anchor="end" font-family='"Liberation Serif", serif' font-size="10.2" fill="#1a1a1a">250</text>
<text x="297.1" y="448.53" text-anchor="end" font-family='"Liberation Serif", serif' font-size="10.2" fill="#1a1a1a">300</text>
<text x="297.45" y="448.53" text-anchor="end" font-family='"Liberation Serif", serif' font-size="10.2" fill="#1a1a1a">300</text>
<text x="297.1" y="423.76" text-anchor="end" font-family='"Liberation Serif", serif' font-size="10.2" fill="#1a1a1a">350</text>
<text x="297.45" y="423.76" text-anchor="end" font-family='"Liberation Serif", serif' font-size="10.2" fill="#1a1a1a">350</text>
<text x="297.1" y="398.98" text-anchor="end" font-family='"Liberation Serif", serif' font-size="10.2" fill="#1a1a1a">400</text>
<text x="297.45" y="398.98" text-anchor="end" font-family='"Liberation Serif", serif' font-size="10.2" fill="#1a1a1a">400</text>
<text x="297.1" y="374.2" text-anchor="end" font-family='"Liberation Serif", serif' font-size="10.2" fill="#1a1a1a">450</text>
<text x="297.45" y="374.2" text-anchor="end" font-family='"Liberation Serif", serif' font-size="10.2" fill="#1a1a1a">450</text>
<text transform="translate(313.89,600) rotate(-90)" text-anchor="end" font-family='"Liberation Serif", serif' font-weight="bold" font-size="9.3" fill="#111">2001</text>
<text transform="translate(313.89,600.35) rotate(-90)" text-anchor="end" font-family='"Liberation Serif", serif' font-weight="bold" font-size="9.3" fill="#111">2001</text>
<text transform="translate(333.04,600) rotate(-90)" text-anchor="end" font-family='"Liberation Serif", serif' font-weight="bold" font-size="9.3" fill="#111">2003</text>
<text transform="translate(333.04,600.35) rotate(-90)" text-anchor="end" font-family='"Liberation Serif", serif' font-weight="bold" font-size="9.3" fill="#111">2003</text>
<text transform="translate(352.19,600) rotate(-90)" text-anchor="end" font-family='"Liberation Serif", serif' font-weight="bold" font-size="9.3" fill="#111">2005</text>
<text transform="translate(352.19,600.35) rotate(-90)" text-anchor="end" font-family='"Liberation Serif", serif' font-weight="bold" font-size="9.3" fill="#111">2005</text>
<text transform="translate(371.34,600) rotate(-90)" text-anchor="end" font-family='"Liberation Serif", serif' font-weight="bold" font-size="9.3" fill="#111">2007</text>
<text transform="translate(371.34,600.35) rotate(-90)" text-anchor="end" font-family='"Liberation Serif", serif' font-weight="bold" font-size="9.3" fill="#111">2007</text>
<text transform="translate(390.49,600) rotate(-90)" text-anchor="end" font-family='"Liberation Serif", serif' font-weight="bold" font-size="9.3" fill="#111">2009</text>
<text transform="translate(390.49,600.35) rotate(-90)" text-anchor="end" font-family='"Liberation Serif", serif' font-weight="bold" font-size="9.3" fill="#111">2009</text>
<text transform="translate(409.64,600) rotate(-90)" text-anchor="end" font-family='"Liberation Serif", serif' font-weight="bold" font-size="9.3" fill="#111">2011</text>
<text transform="translate(409.64,600.35) rotate(-90)" text-anchor="end" font-family='"Liberation Serif", serif' font-weight="bold" font-size="9.3" fill="#111">2011</text>
<text transform="translate(428.79,600) rotate(-90)" text-anchor="end" font-family='"Liberation Serif", serif' font-weight="bold" font-size="9.3" fill="#111">2013</text>
<text transform="translate(428.79,600.35) rotate(-90)" text-anchor="end" font-family='"Liberation Serif", serif' font-weight="bold" font-size="9.3" fill="#111">2013</text>
<text transform="translate(447.94,600) rotate(-90)" text-anchor="end" font-family='"Liberation Serif", serif' font-weight="bold" font-size="9.3" fill="#111">2015</text>
<text transform="translate(447.94,600.35) rotate(-90)" text-anchor="end" font-family='"Liberation Serif", serif' font-weight="bold" font-size="9.3" fill="#111">2015</text>
<text transform="translate(467.09,600) rotate(-90)" text-anchor="end" font-family='"Liberation Serif", serif' font-weight="bold" font-size="9.3" fill="#111">2017</text>
<text transform="translate(467.09,600.35) rotate(-90)" text-anchor="end" font-family='"Liberation Serif", serif' font-weight="bold" font-size="9.3" fill="#111">2017</text>
<text transform="translate(486.24,600) rotate(-90)" text-anchor="end" font-family='"Liberation Serif", serif' font-weight="bold" font-size="9.3" fill="#111">2019</text>
<text transform="translate(486.24,600.35) rotate(-90)" text-anchor="end" font-family='"Liberation Serif", serif' font-weight="bold" font-size="9.3" fill="#111">2019</text>
<line x1="310.2" y1="381.6" x2="324.8" y2="381.6" stroke="#284690" stroke-width="1.3"/>
<text x="325.9" y="384.6" font-family='"Liberation Serif", serif' font-weight="bold" font-size="9.61" fill="#111">Colitis</text>
<text x="326.15" y="384.6" font-family='"Liberation Serif", serif' font-weight="bold" font-size="9.61" fill="#111">Colitis</text>
<line x1="310.2" y1="411.8" x2="324.8" y2="411.8" stroke="#d26f32" stroke-width="1.3"/>
<text x="325.9" y="415" font-family='"Liberation Serif", serif' font-weight="bold" font-size="9.68" fill="#111">Inflammatory</text>
<text x="326.15" y="415" font-family='"Liberation Serif", serif' font-weight="bold" font-size="9.68" fill="#111">Inflammatory</text>
<text x="325.9" y="424.8" font-family='"Liberation Serif", serif' font-weight="bold" font-size="9.6" fill="#111">bowel disease</text>
<text x="326.15" y="424.8" font-family='"Liberation Serif", serif' font-weight="bold" font-size="9.6" fill="#111">bowel disease</text>
<line x1="310.2" y1="441.6" x2="324.8" y2="441.6" stroke="#909090" stroke-width="1.3"/>
<text x="325.9" y="444.7" font-family='"Liberation Serif", serif' font-weight="bold" font-size="9.74" fill="#111">Necrosis</text>
<text x="326.15" y="444.7" font-family='"Liberation Serif", serif' font-weight="bold" font-size="9.74" fill="#111">Necrosis</text>
<text x="267.8" y="364.8" font-family='"Liberation Serif", serif' font-size="14.9" fill="#000">D</text>
<text x="48.3" y="31.7" font-family='"Liberation Serif", serif' font-size="13.95" fill="#000">2001 to 2020 for 2020 top 10 Disease/health conditions revealed by ProBioQuest</text>
<text transform="translate(19.6,396.5) rotate(-90)" font-family='"Liberation Serif", serif' font-size="13.9" word-spacing="2" fill="#000">No. of Publication</text>
<text x="226.5" y="667.7" font-family='"Liberation Serif", serif' font-size="14.05" fill="#000">Publication year</text>
<rect x="0" y="0" width="520" height="1" fill="#000"/>
<rect x="2" y="1" width="516" height="1" fill="#c4c4c4"/>
<rect x="519" y="0" width="1" height="692" fill="#000"/>
<rect x="518" y="1" width="1" height="690" fill="#cfcfcf"/>
<rect x="0" y="691" width="520" height="1" fill="#000"/>
<rect x="2" y="690" width="516" height="1" fill="#d4d4d4"/>
<rect x="0" y="0" width="1" height="692" fill="#b0b0b0"/>
<rect x="1" y="0" width="1" height="692" fill="#878787"/>
</svg>
</body></html>
